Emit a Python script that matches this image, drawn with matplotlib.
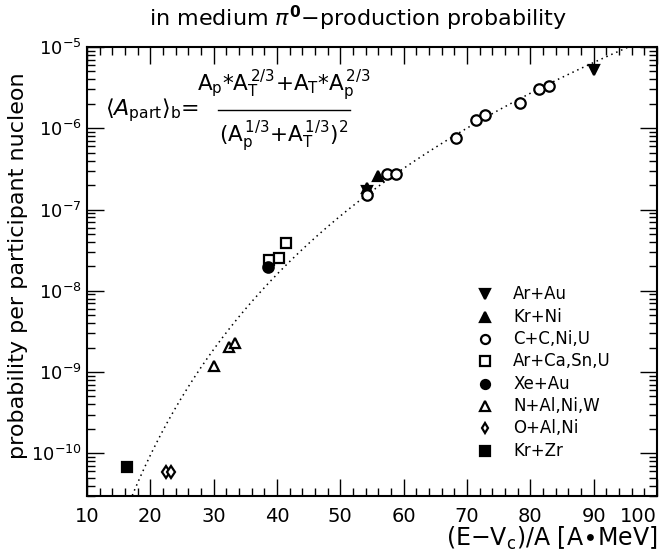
import numpy as np
import matplotlib
matplotlib.use("Agg")
import matplotlib.pyplot as plt
from matplotlib.lines import Line2D
from matplotlib.ticker import LogLocator, MultipleLocator, NullFormatter

plt.rcParams['font.family'] = ['DejaVu Sans']
plt.rcParams['mathtext.fontset'] = 'dejavusans'

# beam energy above threshold, (E - Vc)/A in A*MeV, and pi0 probability per participant
series = [
    ("Ar+Au",       [54.2, 90.0],  [1.70e-7, 5.2e-6], 'v', True,  7.5),
    ("Kr+Ni",       [54.2, 56.0],  [1.85e-7, 2.6e-7], '^', True,  7.5),
    ("C+C,Ni,U",    [54.2, 57.3, 58.8, 68.3, 71.4, 72.9, 78.3, 81.4, 83.0],
                    [1.5e-7, 2.7e-7, 2.7e-7, 7.5e-7, 1.26e-6, 1.44e-6, 2.03e-6, 3.0e-6, 3.3e-6],
                    'o', False, 7.5),
    ("Ar+Ca,Sn,U",  [38.8, 40.3, 41.4], [2.4e-8, 2.55e-8, 3.9e-8], 's', False, 7.5),
    ("Xe+Au",       [38.6], [1.95e-8], 'o', True, 7.5),
    ("N+Al,Ni,W",   [30.0, 32.4, 33.4], [1.2e-9, 2.05e-9, 2.3e-9], '^', False, 7.5),
    ("O+Al,Ni",     [22.5, 23.3], [5.8e-11, 5.8e-11], 'd', False, 6.0),
    ("Kr+Zr",       [16.3], [6.7e-11], 's', True, 7.5),
]
x_ticks = [10, 20, 30, 40, 50, 60, 70, 80, 90, 100]

# power-law fit  P = 10**fit_log_norm * x**fit_index
fit_log_norm = -19.652
fit_index = 7.4

W, H = 667, 558
fig = plt.figure(figsize=(W / 100, H / 100), dpi=100)
ax = fig.add_axes([87 / W, 1 - 496 / H, 570 / W, 449 / H])


def style(marker, filled):
    return dict(marker=marker, linestyle='none',
                markerfacecolor='black' if filled else 'white',
                markeredgecolor='black', markeredgewidth=1.6)


for name, xs, ys, mk, filled, ms in series:
    ax.plot(xs, ys, markersize=ms, zorder=3, **style(mk, filled))

xf = np.linspace(15, 100, 400)
ax.plot(xf, 10 ** fit_log_norm * xf ** fit_index, color='black',
        linestyle=(0, (1, 2.5)), linewidth=1.1, zorder=2)

ax.set_yscale('log')
ax.set_xlim(10, 100)
ax.set_ylim(2.98e-11, 1e-5)
ax.set_xticks(x_ticks, [str(v) for v in x_ticks])
ax.xaxis.set_minor_locator(MultipleLocator(2))
ax.yaxis.set_major_locator(LogLocator(base=10, numticks=20))
ax.yaxis.set_minor_locator(LogLocator(base=10, subs=np.arange(2, 10), numticks=20))
ax.yaxis.set_minor_formatter(NullFormatter())
ax.tick_params(which='both', direction='in', top=True, right=True, width=1.0)
ax.tick_params(axis='x', labelsize=14, pad=8)
ax.tick_params(axis='y', labelsize=13, pad=4)
ax.tick_params(which='major', length=12)
ax.tick_params(which='minor', length=6)
for sp in ax.spines.values():
    sp.set_linewidth(1.5)

# keep the last x label inside the frame
last = ax.xaxis.get_major_ticks()[-1]
last.label1.set_horizontalalignment('right')

# legend rows
for i, (name, xs, ys, mk, filled, ms) in enumerate(series):
    yy = (496 - (294.3 + 22.35 * i)) / 449
    ax.plot([(485 - 87) / 570], [yy], transform=ax.transAxes,
            markersize=ms - 1, clip_on=False, **style(mk, filled))
    ax.text((513 - 87) / 570, yy, name, transform=ax.transAxes,
            fontsize=12, va='center', ha='left')

# participant-averaging formula
fig.text(105 / W, 1 - 110 / H, r'$\langle A_{\rm part}\rangle_{\rm b}$=',
         fontsize=16, va='center', ha='left')
fig.text(284 / W, 1 - 85 / H,
         r'$\mathrm{A_p{*}A_T^{\,2/3}{+}A_T{*}A_p^{\,2/3}}$',
         fontsize=15.5, va='center', ha='center')
fig.text(284 / W, 1 - 136 / H,
         r'$\mathrm{(A_p^{\,1/3}{+}A_T^{\,1/3})^2}$',
         fontsize=15.5, va='center', ha='center')
fig.add_artist(Line2D([218 / W, 350 / W], [1 - 110 / H, 1 - 110 / H],
                      color='black', linewidth=1.0))

fig.text(358 / W, 1 - 18 / H, r'in medium $\pi^{\mathbf{0}}$$-$production probability',
         fontsize=16, ha='center', va='center')
fig.text(18 / W, 1 - 266 / H, 'probability per participant nucleon',
         fontsize=16, rotation=90, ha='center', va='center')
fig.text(657 / W, 1 - 538 / H, r'(E$-$V$_\mathrm{c}$)/A [A$\bullet$MeV]',
         fontsize=17, ha='right', va='center')

fig.savefig('out.png', dpi=100)
